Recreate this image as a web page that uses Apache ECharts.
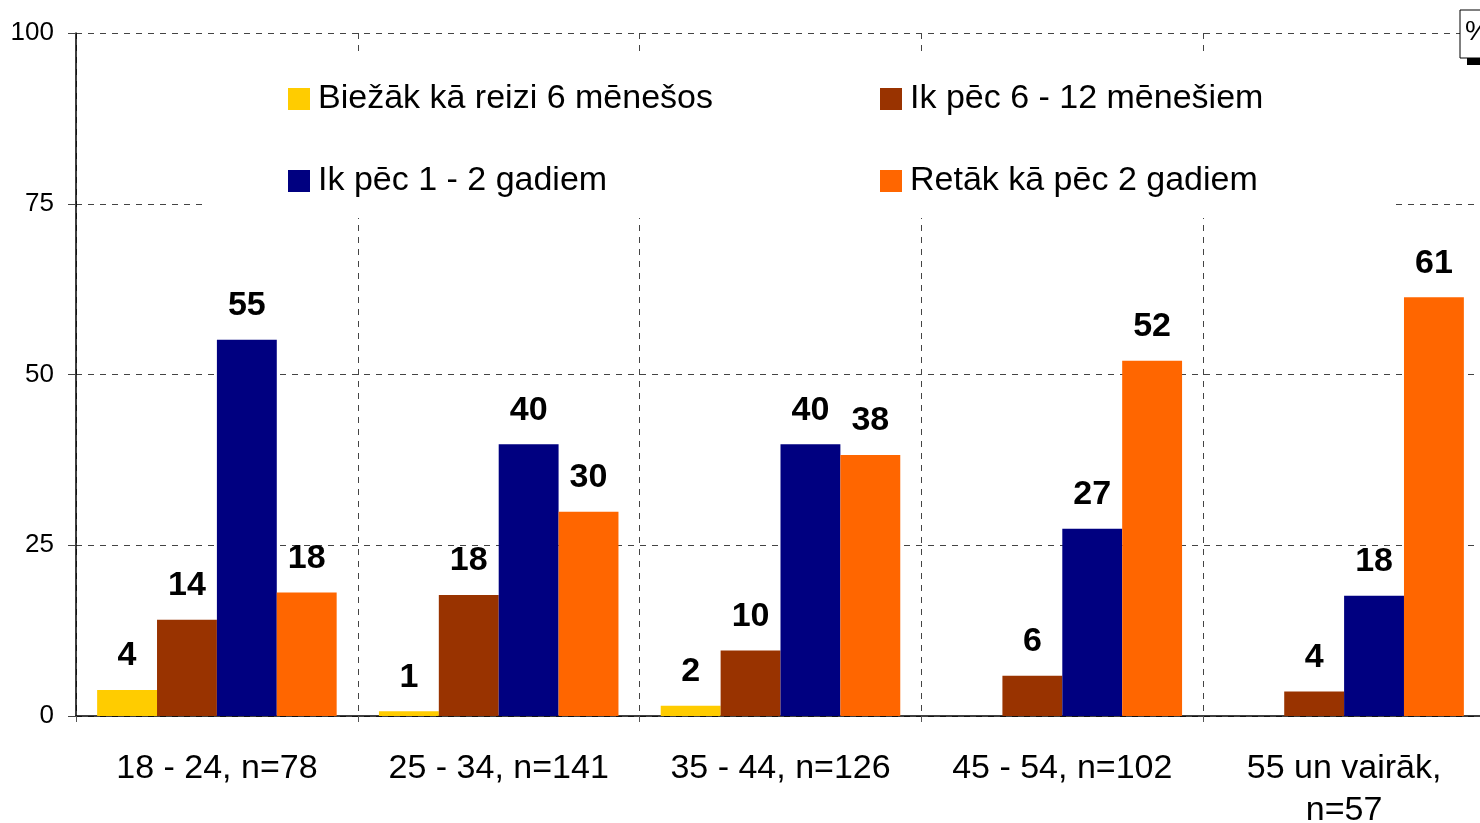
<!DOCTYPE html>
<html><head><meta charset="utf-8">
<script src="https://cdn.jsdelivr.net/npm/echarts@6/dist/echarts.min.js"></script>
<style>html,body{margin:0;padding:0;background:#fff}#c{width:1480px;height:823px}</style>
</head><body><div id="c"></div>
<script>
const categories = ['18 - 24, n=78', '25 - 34, n=141', '35 - 44, n=126', '45 - 54, n=102', '55 un vairāk,\nn=57'];
const seriesNames = ['Biežāk kā reizi 6 mēnešos', 'Ik pēc 6 - 12 mēnešiem', 'Ik pēc 1 - 2 gadiem', 'Retāk kā pēc 2 gadiem'];
const colors = ['#FFCC00', '#993300', '#000080', '#FF6600'];
const often = [3.8, 0.7, 1.5, null, null];
const m6to12 = [14.1, 17.7, 9.6, 5.9, 3.6];
const y1to2 = [55.1, 39.8, 39.8, 27.4, 17.6];
const rarer = [18.1, 29.9, 38.2, 52.0, 61.3];
const yTicks = [0, 25, 50, 75, 100];
const values = [often, m6to12, y1to2, rarer];

const FONT = '"Liberation Sans", Arial, sans-serif';
const chart = echarts.init(document.getElementById('c'), null, {renderer: 'canvas'});
const legendCommon = {
  orient: 'vertical', icon: 'rect', itemWidth: 22, itemHeight: 22, itemGap: 46, padding: 0,
  selectedMode: false, top: 81,
  textStyle: {fontFamily: FONT, fontSize: 34, color: '#000', lineHeight: 36, padding: [0, 0, 0, 3]}
};
chart.setOption({
  animation: false,
  color: colors,
  graphic: [
    {type: 'rect', z: 1, shape: {x: 205, y: 52, width: 1185, height: 166}, style: {fill: '#fff'}},
    {type: 'rect', z: 5, shape: {x: 1460, y: 10, width: 40, height: 48}, style: {fill: '#fff', stroke: '#000', lineWidth: 1}},
    {type: 'text', z: 6, x: 1465, y: 18, style: {text: '%', font: '28px ' + FONT, fill: '#000'}},
    {type: 'rect', z: 6, shape: {x: 1467, y: 58, width: 20, height: 7}, style: {fill: '#000'}}
  ],
  legend: [
    Object.assign({}, legendCommon, {left: 288, data: [seriesNames[0], seriesNames[2]]}),
    Object.assign({}, legendCommon, {left: 880, data: [seriesNames[1], seriesNames[3]]})
  ],
  grid: {left: 76, top: 33, width: 1409, height: 683, containLabel: false, outerBoundsMode: 'none'},
  xAxis: {
    type: 'category', data: categories,
    axisLine: {lineStyle: {color: '#000', width: 1.5}},
    axisTick: {show: true, interval: 0, length: 10, lineStyle: {color: '#555', type: [6, 4]}},
    axisLabel: {interval: 0, hideOverlap: false, fontFamily: FONT, fontSize: 34, color: '#000', margin: 32, lineHeight: 42},
    splitLine: {show: true, interval: 0, lineStyle: {color: '#444', type: [6, 6], width: 1}}
  },
  yAxis: {
    type: 'value', min: 0, max: 100, interval: 25,
    axisLine: {show: true, lineStyle: {color: '#000', width: 1.5}},
    axisTick: {show: true, length: 8, lineStyle: {color: '#444'}},
    axisLabel: {fontFamily: FONT, fontSize: 26, color: '#000', margin: 22,
      formatter: v => yTicks.includes(v) ? String(v) : ''},
    splitLine: {show: true, lineStyle: {color: '#444', type: [6, 6], width: 1}}
  },
  series: values.map((d, i) => ({
    name: seriesNames[i], type: 'bar', data: d, barGap: '0%', barCategoryGap: '15%', z: 3,
    itemStyle: {color: colors[i]},
    label: {show: true, position: 'top', distance: 17, fontFamily: FONT, fontSize: 34, fontWeight: 'bold', color: '#000',
      formatter: p => p.value == null ? '' : String(Math.round(p.value))}
  }))
});
</script></body></html>
